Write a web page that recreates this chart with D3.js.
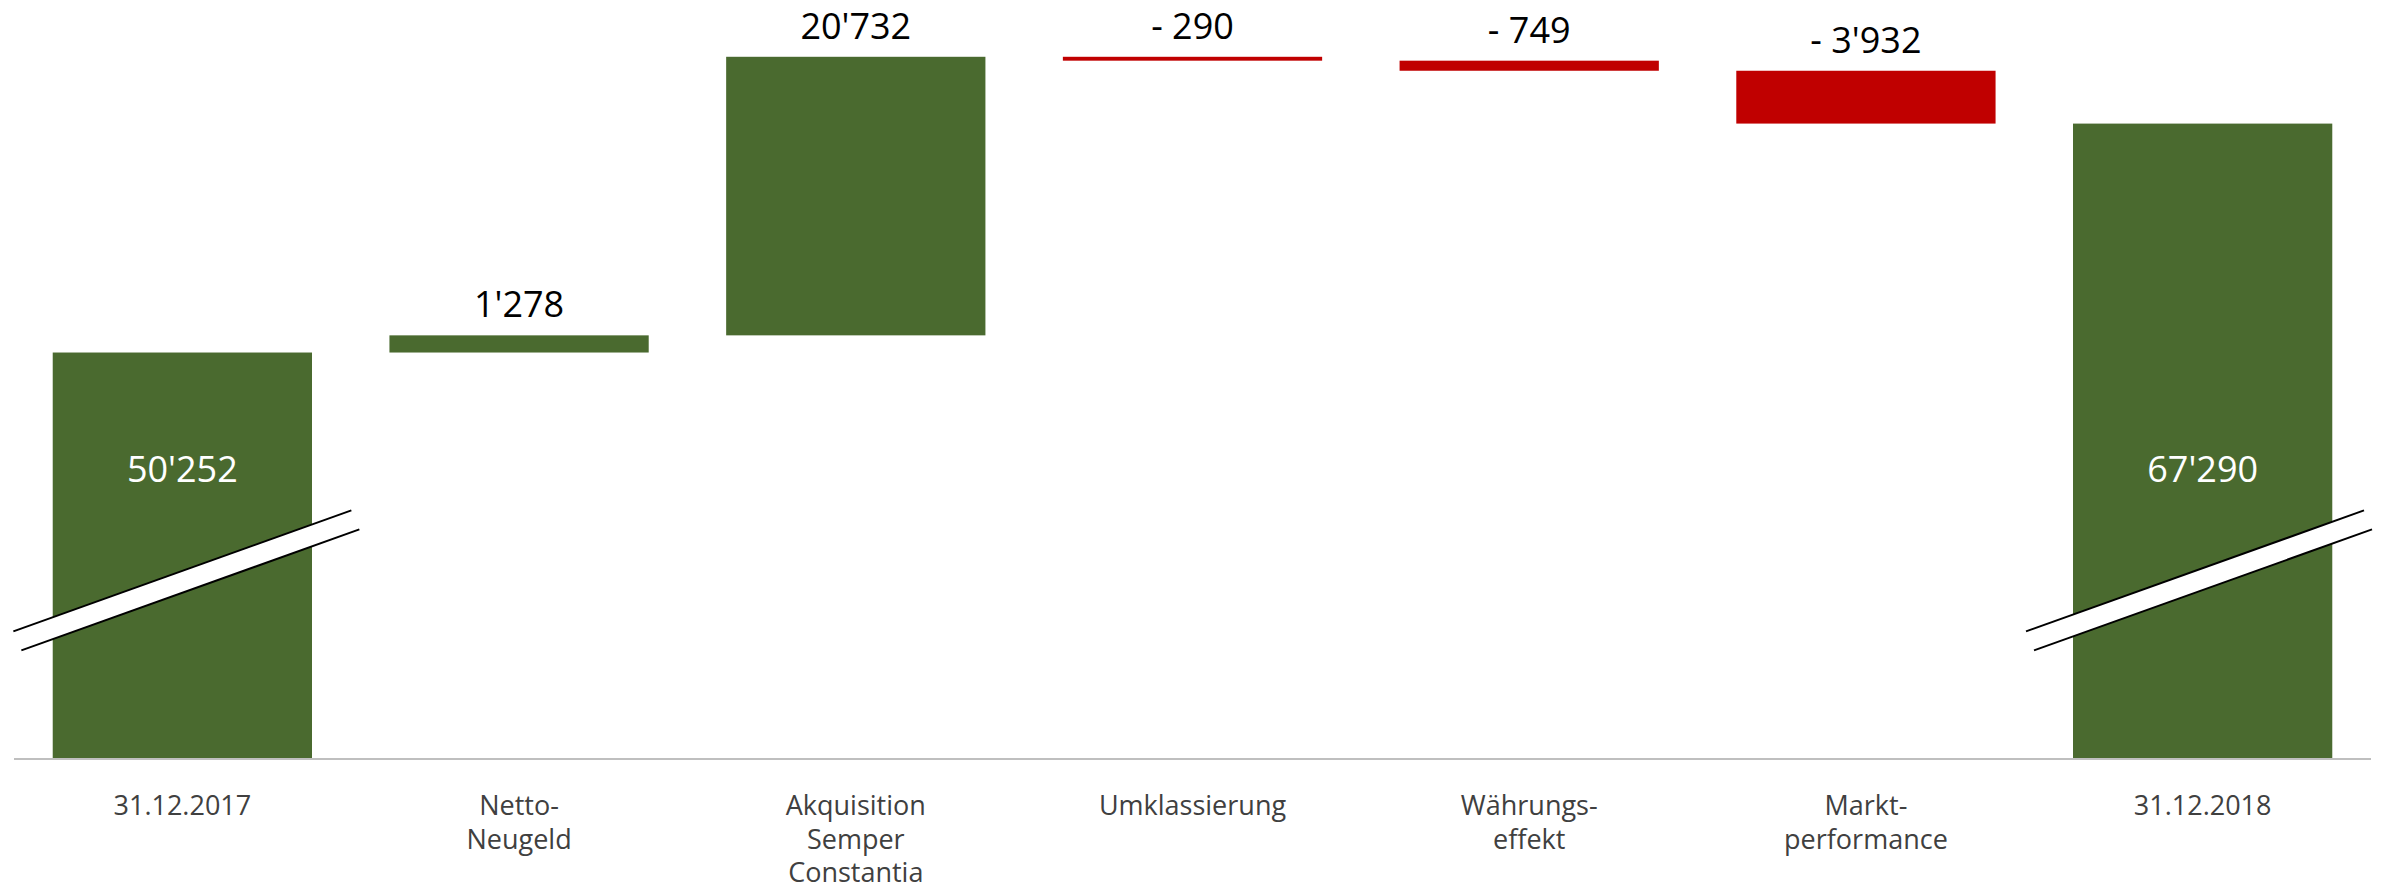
<!DOCTYPE html>
<meta charset='utf-8'>
<style>
  body { margin: 0; background: #fff; }
  text { font-family: "Open Sans", "Noto Sans", sans-serif; }
  .cat { fill: #404040; font-size: 27px; }
  .val { fill: #000; font-size: 36px; }
  .inner { fill: #fff; font-size: 36px; }
</style>
<body></body>
<script src="https://d3js.org/d3.v7.min.js"></script>
<script>

// categories (one entry per line of the label)
const categories = [
  ["31.12.2017"],
  ["Netto-", "Neugeld"],
  ["Akquisition", "Semper", "Constantia"],
  ["Umklassierung"],
  ["Währungs-", "effekt"],
  ["Markt-", "performance"],
  ["31.12.2018"]
];
const values = [50252, 1278, 20732, -290, -749, -3932, 67290];
const kinds = ["total", "delta", "delta", "delta", "delta", "delta", "total"];

// y axis is cut: it starts at 20'000, hence the break marks on the totals
const yDomain = [20000, 75000];
const breakAt = 34000;

const W = 2386, H = 892;
const baseY = 759;

const svg = d3.select('body').append('svg')
  .attr('width', W).attr('height', H);

const x = d3.scaleBand()
  .domain(d3.range(values.length))
  .range([14, 2371])
  .paddingInner(0.23)
  .paddingOuter(0.115);

const y = d3.scaleLinear().domain(yDomain).range([baseY, 20]);

const fmt = d3.formatLocale({
  decimal: ".", thousands: "'", grouping: [3], currency: ["", ""], minus: "- "
}).format(",d");

// running totals for the waterfall
let run = 0;
const bars = values.map((v, i) => {
  let b;
  if (kinds[i] == "total") {
    b = {i: i, v: v, lo: yDomain[0], hi: v};
    run = v;
  } else {
    b = {i: i, v: v, lo: Math.min(run, run + v), hi: Math.max(run, run + v)};
    run += v;
  }
  return b;
});

const green = "#4a6a2f", red = "#c00000";

svg.selectAll('rect.bar').data(bars).join('rect')
  .attr('class', 'bar')
  .attr('x', d => x(d.i))
  .attr('width', x.bandwidth())
  .attr('y', d => y(d.hi))
  .attr('height', d => Math.max(3, y(d.lo) - y(d.hi)))
  .attr('fill', d => d.v < 0 ? red : green);

// value labels above the deltas
svg.selectAll('text.val').data(bars.filter(d => kinds[d.i] == "delta")).join('text')
  .attr('class', 'val')
  .attr('x', d => x(d.i) + x.bandwidth() / 2)
  .attr('y', d => y(d.hi) - 18)
  .attr('text-anchor', 'middle')
  .text(d => fmt(d.v));

// break marks on the totals (kept inside the plot on the right)
const totals = bars.filter(d => kinds[d.i] == "total");
const half = 169, rise = 60.5, dx = 8, dy = 19;
function brkX(d) {
  const c = x(d.i) + x.bandwidth() / 2;
  return c + Math.min(0, x.range()[1] + 1 - (c + half + dx));
}
const brk = svg.selectAll('g.brk').data(totals).join('g')
  .attr('class', 'brk')
  .attr('transform', d => 'translate(' + brkX(d) + ',' + y(breakAt) + ')');

brk.append('path')
  .attr('d', 'M' + (-half) + ',' + rise + 'L' + half + ',' + (-rise) +
    'L' + (half + dx) + ',' + (-rise + dy) + 'L' + (-half + dx) + ',' + (rise + dy) + 'Z')
  .attr('fill', '#fff');
brk.append('line')
  .attr('x1', -half).attr('y1', rise).attr('x2', half).attr('y2', -rise)
  .attr('stroke', '#000').attr('stroke-width', 2);
brk.append('line')
  .attr('x1', -half + dx).attr('y1', rise + dy).attr('x2', half + dx).attr('y2', -rise + dy)
  .attr('stroke', '#000').attr('stroke-width', 2);

// values inside the totals
svg.selectAll('text.inner').data(totals).join('text')
  .attr('class', 'inner')
  .attr('x', d => x(d.i) + x.bandwidth() / 2)
  .attr('y', y(breakAt) - 101)
  .attr('dy', '0.35em')
  .attr('text-anchor', 'middle')
  .text(d => fmt(d.v));

// baseline
svg.append('line')
  .attr('x1', x.range()[0]).attr('x2', x.range()[1])
  .attr('y1', baseY).attr('y2', baseY)
  .attr('stroke', '#bfbfbf').attr('stroke-width', 2);

// category labels
const cat = svg.selectAll('text.cat').data(categories).join('text')
  .attr('class', 'cat')
  .attr('text-anchor', 'middle')
  .attr('transform', (d, i) => 'translate(' + (x(i) + x.bandwidth() / 2) + ',815)');
cat.selectAll('tspan').data(d => d).join('tspan')
  .attr('x', 0)
  .attr('y', (d, j) => j * 33.5)
  .text(d => d);

</script>
